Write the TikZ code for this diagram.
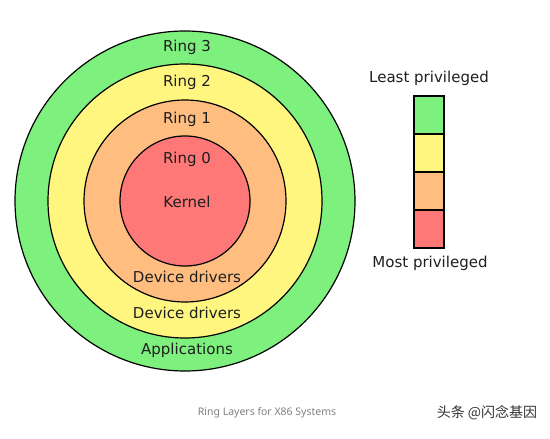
\documentclass[tikz,border=0pt]{standalone}
\usepackage{fontspec}
\setmainfont{DejaVu Sans}
\newfontfamily\capfont{Noto Sans}
\newfontfamily\cjk{Noto Sans CJK SC}
\usepackage{tikz}
\usetikzlibrary{positioning}

\definecolor{ringgreen}{RGB}{125,240,125}
\definecolor{ringyellow}{RGB}{255,246,128}
\definecolor{ringorange}{RGB}{255,190,128}
\definecolor{ringred}{RGB}{255,120,120}
\definecolor{inktext}{RGB}{30,30,30}

\tikzset{
  ring/.style={circle, draw=black, line width=1.2pt, inner sep=0pt},
  lbl/.style={text=inktext, font=\fontsize{15}{18}\selectfont, inner sep=0pt},
  legbox/.style={rectangle, draw=black, line width=1.1pt, minimum width=30pt, minimum height=38pt, inner sep=0pt}
}

\begin{document}
\begin{tikzpicture}[x=1pt,y=-1pt]
\useasboundingbox (0,0) rectangle (550,439);
\fill[white] (0,0) rectangle (550,439);
\coordinate (O) at (185,201);
% rings, outside in
\node[ring, fill=ringgreen, minimum size=340pt] (ring3) at (O) {};
\node[ring, fill=ringyellow, minimum size=274pt] (ring2) at (O) {};
\node[ring, fill=ringorange, minimum size=202pt] (ring1) at (O) {};
\node[ring, fill=ringred, minimum size=130pt] (ring0) at (O) {};
% labels
\node[lbl] (t3) at (187,47) {Ring 3};
\node[lbl] (t2) at (187,82) {Ring 2};
\node[lbl] (t1) at (187,119) {Ring 1};
\node[lbl] (t0) at (187,159) {Ring 0};
\node[lbl] (kern) at (187,202) {Kernel};
\node[lbl] (dev1) at (187,277) {Device drivers};
\node[lbl] (dev2) at (187,313) {Device drivers};
\node[lbl] (apps) at (187,350) {Applications};
% legend
\foreach \c [count=\i] in {ringgreen,ringyellow,ringorange,ringred}
  \node[legbox, fill=\c] (box\i) at (429,{96+38*(\i-1)+19}) {};
\node[lbl] (least) at (429,78) {Least privileged};
\node[lbl] (most) at (430,263) {Most privileged};
% caption and mark
\node[text=gray, font=\capfont\fontsize{10.5}{12}\selectfont, inner sep=0pt] (cap) at (267,413) {Ring Layers for X86 Systems};
\node[text=black!80, font=\cjk\fontsize{14}{16}\selectfont, inner sep=0pt] (mark) at (487,413) {头条 @闪念基因};
\end{tikzpicture}
\end{document}
